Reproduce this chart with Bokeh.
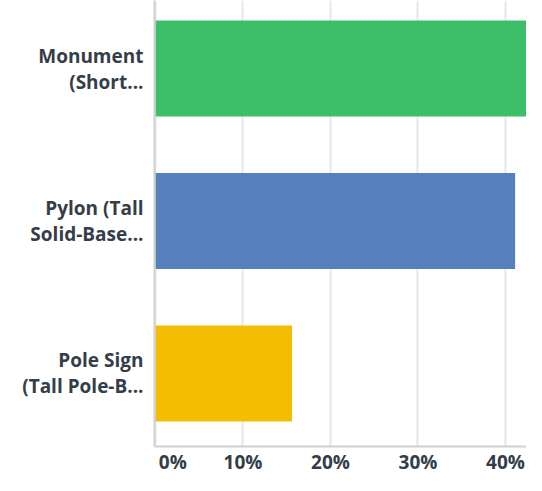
from bokeh.plotting import figure
from bokeh.models import Range1d, FixedTicker
from bokeh.embed import file_html
from bokeh.resources import INLINE

categories = ["Monument\n(Short...", "Pylon (Tall\nSolid-Base...", "Pole Sign\n(Tall Pole-B..."]
values = [43.3, 41.1, 15.6]
colors = ["#3dbf6a", "#557fbd", "#f5bd00"]
x_ticks = [0, 10, 20, 30, 40]
x_tick_labels = ["\u00a0\u00a0\u00a0\u00a0\u00a0\u00a0\u00a00%", "10%", "20%", "30%", "40%"]

n = len(categories)
ypos = [n - 1 - i for i in range(n)]

p = figure(frame_width=372, frame_height=446, output_backend="svg", toolbar_location=None,
           x_range=Range1d(-0.113, 42.4), y_range=Range1d(-0.479, 2.446),
           min_border_left=154, min_border_right=0, min_border_top=0, min_border_bottom=0)
p.outline_line_color = None
p.background_fill_color = "white"
p.border_fill_color = "white"

p.hbar(y=ypos, right=values, left=0, height=0.63, color=colors, line_color=None)

p.xaxis.ticker = FixedTicker(ticks=x_ticks)
p.xaxis.major_label_overrides = {t: l for t, l in zip(x_ticks, x_tick_labels)}
p.yaxis.ticker = FixedTicker(ticks=ypos)
p.yaxis.major_label_overrides = {y: c for y, c in zip(ypos, categories)}

for ax in (p.xaxis, p.yaxis):
    ax.axis_line_color = "#d0d0d0"
    ax.axis_line_width = 2
    ax.major_tick_line_color = None
    ax.minor_tick_line_color = None
    ax.major_tick_out = 0
    ax.major_tick_in = 0
    ax.major_label_text_font = "Open Sans"
    ax.major_label_text_font_style = "bold"
    ax.major_label_text_color = "#333e48"

p.yaxis.major_label_text_font_size = "19px"
p.yaxis.major_label_text_line_height = 1.0
p.xaxis.major_label_text_font_size = "19px"
p.xaxis.major_label_standoff = 2
p.yaxis.major_label_standoff = 11

p.xgrid.grid_line_color = "#e6e6e6"
p.xgrid.grid_line_width = 2
p.ygrid.grid_line_color = None

open("out.html", "w").write(file_html(p, INLINE))
